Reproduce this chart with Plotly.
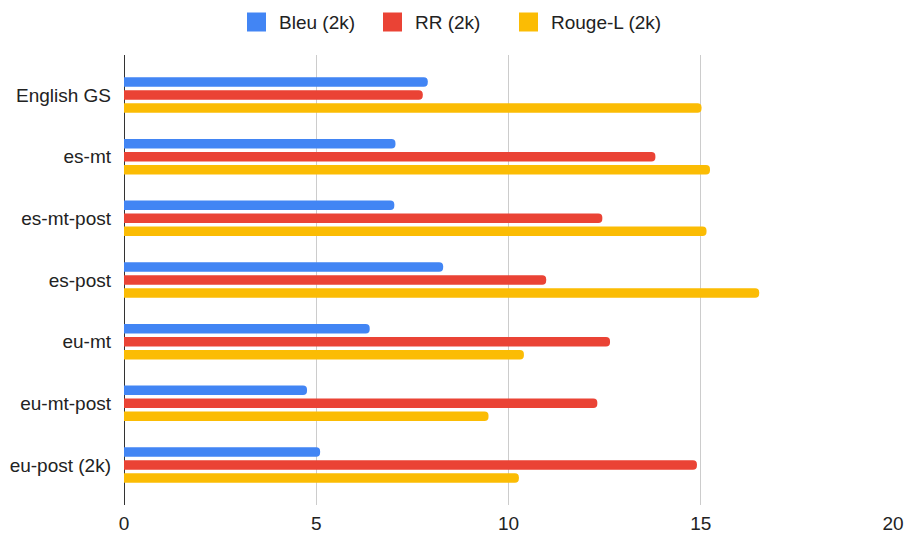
import plotly.graph_objects as go

categories = ["English GS", "es-mt", "es-mt-post", "es-post", "eu-mt", "eu-mt-post", "eu-post (2k)"]
bleu = [7.90, 7.06, 7.03, 8.30, 6.39, 4.76, 5.10]
rr = [7.77, 13.82, 12.44, 10.98, 12.64, 12.31, 14.90]
rouge_l = [15.02, 15.24, 15.15, 16.52, 10.40, 9.48, 10.27]
x_ticks = [0, 5, 10, 15, 20]

series = [
    ("Bleu (2k)", bleu, "#4285F4"),
    ("RR (2k)", rr, "#EA4335"),
    ("Rouge-L (2k)", rouge_l, "#FBBC04"),
]

FONT = "Liberation Sans, Arial, sans-serif"
FS = 19
TEXT = "#222222"

W, H = 905, 533
ML, MR, MT, MB = 124, 12, 55, 28
PW, PH = W - ML - MR, H - MT - MB


def px_x(px):
    return (px - ML) / PW


def px_y(py):
    return (H - MB - py) / PH


fig = go.Figure()
for name, vals, color in series:
    fig.add_trace(go.Bar(
        y=categories, x=vals, name=name, orientation="h",
        marker=dict(color=color, line=dict(width=0)),
        showlegend=False,
    ))

# legend row across the top: swatch + label per series
legend_left, legend_step, sw, legend_cy = 247, 136, 19, 22
shapes, annotations = [], []
for i, (name, _, color) in enumerate(series):
    x0 = legend_left + i * legend_step
    shapes.append(dict(
        type="rect", xref="paper", yref="paper",
        x0=px_x(x0), x1=px_x(x0 + sw),
        y0=px_y(legend_cy - sw / 2), y1=px_y(legend_cy + sw / 2),
        fillcolor=color, line=dict(width=0), layer="above",
    ))
    annotations.append(dict(
        text=name, xref="paper", yref="paper",
        x=px_x(x0 + 30), y=px_y(legend_cy), xanchor="left", yanchor="middle",
        showarrow=False, font=dict(family=FONT, size=FS, color=TEXT),
    ))

n = len(categories)
pad = 0.148
fig.update_layout(
    width=W, height=H,
    margin=dict(l=ML, r=MR, t=MT, b=MB, autoexpand=False),
    paper_bgcolor="white", plot_bgcolor="white",
    font=dict(family=FONT, size=FS, color=TEXT),
    barmode="group", bargap=0.368, bargroupgap=0.27,
    barcornerradius=4,
    showlegend=False,
    shapes=shapes, annotations=annotations,
)
fig.update_xaxes(
    range=[0, 20], tickvals=x_ticks, ticktext=[str(v) for v in x_ticks],
    showgrid=True, gridcolor="#cccccc", gridwidth=1,
    zeroline=True, zerolinecolor="#333333", zerolinewidth=1,
    showline=False, ticks="", tickfont=dict(size=FS, color=TEXT),
    automargin=False, ticklabelstandoff=5,
)
fig.update_yaxes(
    type="category", categoryorder="array", categoryarray=categories,
    range=[n - 1 + 0.5 + pad, -0.5 - pad],
    showgrid=False, zeroline=False, showline=False, ticks="",
    ticklabelstandoff=12, tickfont=dict(size=FS, color=TEXT),
    automargin=False,
)

fig.write_html("out.html")
